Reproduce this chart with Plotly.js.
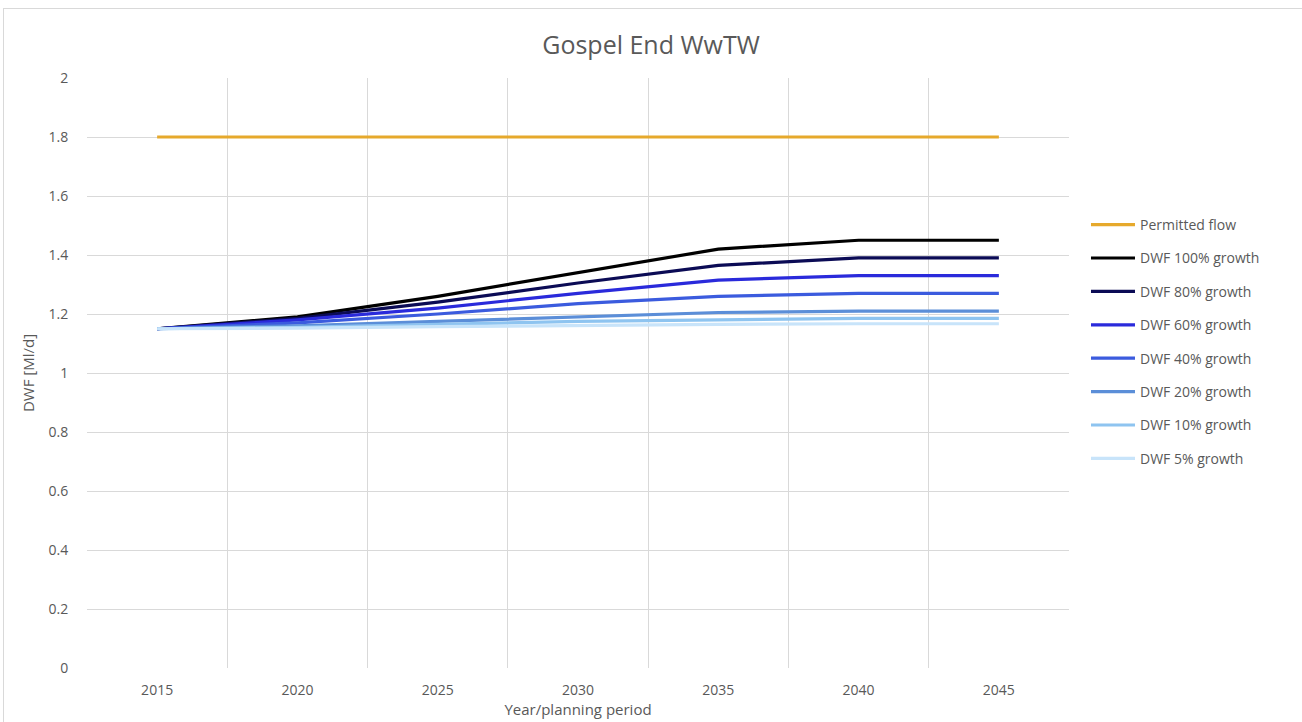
<!DOCTYPE html>
<html>
<head>
<meta charset="utf-8">
<script src="https://cdn.plot.ly/plotly-3.0.1.min.js"></script>
<style>
html,body{margin:0;padding:0;background:#fff;}
#frame{position:absolute;left:3px;top:8px;width:1310px;height:720px;border:1px solid #d9d9d9;box-sizing:border-box;}
#chart{position:absolute;left:0;top:0;width:1302px;height:722px;}
</style>
</head>
<body>
<div id="frame"></div>
<div id="chart"></div>
<script>
const years = ["2015", "2020", "2025", "2030", "2035", "2040", "2045"];
const permittedFlow = [1.8, 1.8, 1.8, 1.8, 1.8, 1.8, 1.8];
const dwf100 = [1.15, 1.19, 1.26, 1.34, 1.42, 1.45, 1.45];
const dwf80  = [1.15, 1.185, 1.24, 1.305, 1.365, 1.39, 1.39];
const dwf60  = [1.15, 1.18, 1.22, 1.27, 1.315, 1.33, 1.33];
const dwf40  = [1.15, 1.17, 1.2, 1.235, 1.26, 1.27, 1.27];
const dwf20  = [1.15, 1.16, 1.175, 1.19, 1.205, 1.21, 1.21];
const dwf10  = [1.15, 1.155, 1.165, 1.175, 1.18, 1.185, 1.185];
const dwf5   = [1.15, 1.152, 1.157, 1.162, 1.165, 1.167, 1.167];

const seriesNames = ["Permitted flow", "DWF 100% growth", "DWF 80% growth", "DWF 60% growth",
  "DWF 40% growth", "DWF 20% growth", "DWF 10% growth", "DWF 5% growth"];
const seriesValues = [permittedFlow, dwf100, dwf80, dwf60, dwf40, dwf20, dwf10, dwf5];
const seriesColors = ["#E6A92C", "#000000", "#0B0B55", "#2A2ADB", "#3B5BDE", "#5B8ED8", "#8EC4F0", "#C8E4FA"];

const traces = seriesNames.map((n, i) => ({
  type: "scatter", mode: "lines", name: n, x: years, y: seriesValues[i],
  legendgroup: "g" + i,
  line: {color: seriesColors[i], width: 3.2}
}));

const layout = {
  width: 1302, height: 722,
  paper_bgcolor: "rgba(0,0,0,0)", plot_bgcolor: "#fff",
  margin: {l: 87, r: 233, t: 78, b: 54},
  font: {family: "'Open Sans', sans-serif", color: "#595959", size: 14},
  title: {text: "Gospel End WwTW", font: {size: 25, color: "#595959"}, x: 0.5, xref: "container", y: 1 - 45/722, yref: "container", yanchor: "middle"},
  xaxis: {
    type: "category", range: [-0.5, 6.5], tickson: "boundaries",
    showgrid: true, gridcolor: "#d9d9d9", gridwidth: 1, ticks: "", ticklabelstandoff: 12,
    zeroline: false, showline: false,
    tickfont: {size: 14, color: "#595959"},
    title: {text: "Year/planning period", font: {size: 15, color: "#595959"}, standoff: 4}
  },
  yaxis: {
    range: [0, 2], dtick: 0.2, showgrid: true, gridcolor: "#d9d9d9", gridwidth: 1,
    zeroline: false, showline: false, ticks: "outside", ticklen: 15, tickcolor: "rgba(0,0,0,0)",
    tickfont: {size: 14, color: "#595959"},
    title: {text: "DWF [Ml/d]", font: {size: 15, color: "#595959"}, standoff: 10}
  },
  showlegend: true,
  legend: {x: 1.0173, xanchor: "left", y: 0.778, yanchor: "top", tracegroupgap: 12.2, itemwidth: 44,
    font: {size: 14, color: "#595959"}, bgcolor: "rgba(0,0,0,0)"}
};

Plotly.newPlot("chart", traces, layout, {displayModeBar: false});
</script>
</body>
</html>
